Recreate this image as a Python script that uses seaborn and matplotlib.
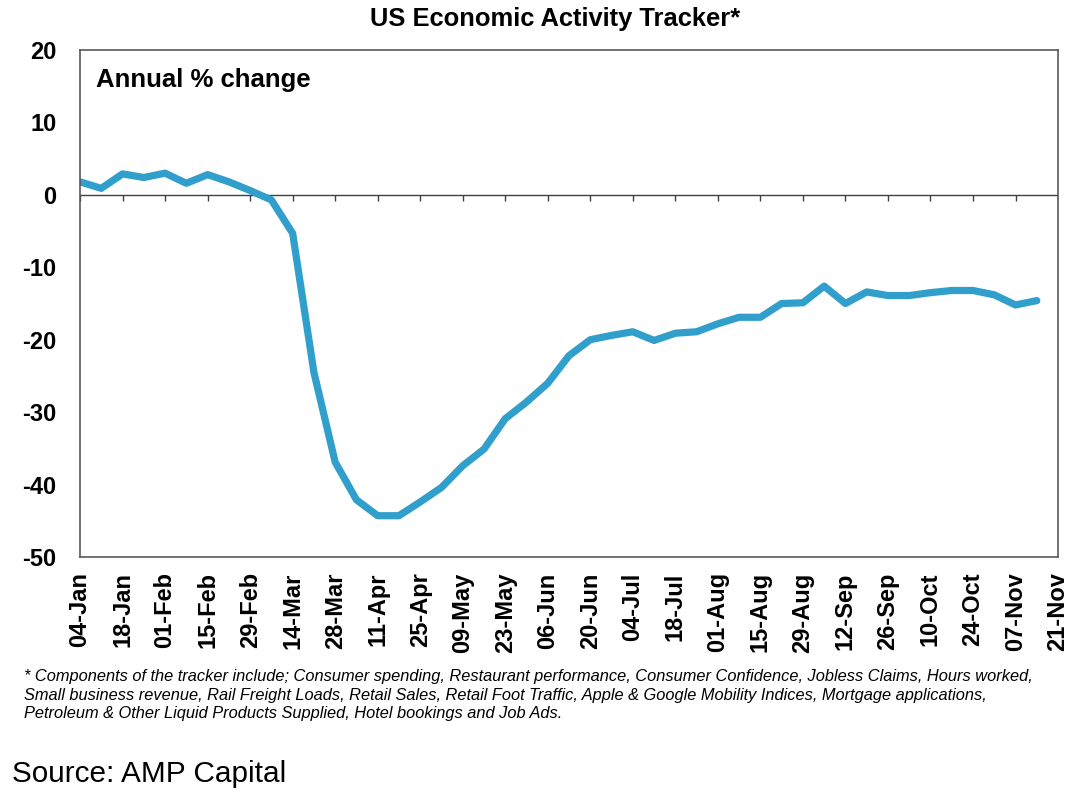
import pandas as pd
import matplotlib
matplotlib.use("Agg")
import matplotlib.pyplot as plt
import matplotlib.dates as mdates
import seaborn as sns

# weekly readings, annual % change
week_start = "2020-01-04"
tracker = [1.8, 0.9, 2.9, 2.4, 3.0, 1.6, 2.8, 1.8, 0.6, -0.7,
           -5.3, -24.5, -36.9, -42.1, -44.3, -44.3, -42.4, -40.4, -37.4, -35.1,
           -30.9, -28.6, -26.0, -22.2, -20.0, -19.4, -18.9, -20.1, -19.1, -18.9,
           -17.8, -16.9, -16.9, -15.0, -14.9, -12.6, -15.0, -13.4, -13.9, -13.9,
           -13.5, -13.2, -13.2, -13.8, -15.2, -14.6]
tick_start = "2020-01-04"
tick_end = "2020-11-21"

title = "US Economic Activity Tracker*"
subtitle = "Annual % change"
footnote = ("* Components of the tracker include; Consumer spending, Restaurant performance, "
            "Consumer Confidence, Jobless Claims, Hours worked,\n"
            "Small business revenue, Rail Freight Loads, Retail Sales, Retail Foot Traffic, "
            "Apple & Google Mobility Indices, Mortgage applications,\n"
            "Petroleum & Other Liquid Products Supplied, Hotel bookings and Job Ads.")
source = "Source: AMP Capital"

df = pd.DataFrame({
    "week": pd.date_range(week_start, periods=len(tracker), freq="7D"),
    "value": tracker,
})
ticks = pd.date_range(tick_start, tick_end, freq="14D")

sns.set_theme(style="white")
plt.rcParams["font.family"] = ["Liberation Sans", "DejaVu Sans"]
plt.rcParams["axes.unicode_minus"] = False
plt.rcParams["text.color"] = "black"
plt.rcParams["xtick.color"] = "black"
plt.rcParams["ytick.color"] = "black"

fig = plt.figure(figsize=(10.92, 8.11), dpi=100)
ax = fig.add_axes([0.0733, 0.3132, 0.8956, 0.6251])

sns.lineplot(data=df, x="week", y="value", color="#319fcb", linewidth=5.2,
             solid_joinstyle="round", solid_capstyle="round", ax=ax)

# zero line with the date ticks hanging below it
ax.axhline(0, color="#404040", linewidth=1.0, zorder=1)
ax.vlines(ticks, -0.9, 0, color="#404040", linewidth=1.0, zorder=1)

ax.set_xlim(ticks[0], ticks[-1])
ax.set_ylim(-50, 20)
ax.set_yticks(range(-50, 21, 10))
ax.set_xticks(ticks)
ax.xaxis.set_major_formatter(mdates.DateFormatter("%d-%b"))
ax.tick_params(axis="x", rotation=90, length=0, pad=11, labelsize=17)
ax.tick_params(axis="y", length=0, pad=17, labelsize=17)
for lab in ax.get_xticklabels() + ax.get_yticklabels():
    lab.set_fontweight("bold")
ax.set_xlabel("")
ax.set_ylabel("")
for sp in ax.spines.values():
    sp.set_color("#595959")
    sp.set_linewidth(1.2)

ax.text(0.016, 0.94, subtitle, transform=ax.transAxes, fontsize=18.5,
        fontweight="bold", va="center", ha="left")
fig.text(0.508, 0.976, title, fontsize=18.4, fontweight="bold", ha="center", va="center")
fig.text(0.022, 0.143, footnote, fontsize=11.8, style="italic", ha="left", va="center",
         linespacing=1.3)
fig.text(0.011, 0.046, source, fontsize=21.4, ha="left", va="center")

fig.savefig("out.png", dpi=100)
